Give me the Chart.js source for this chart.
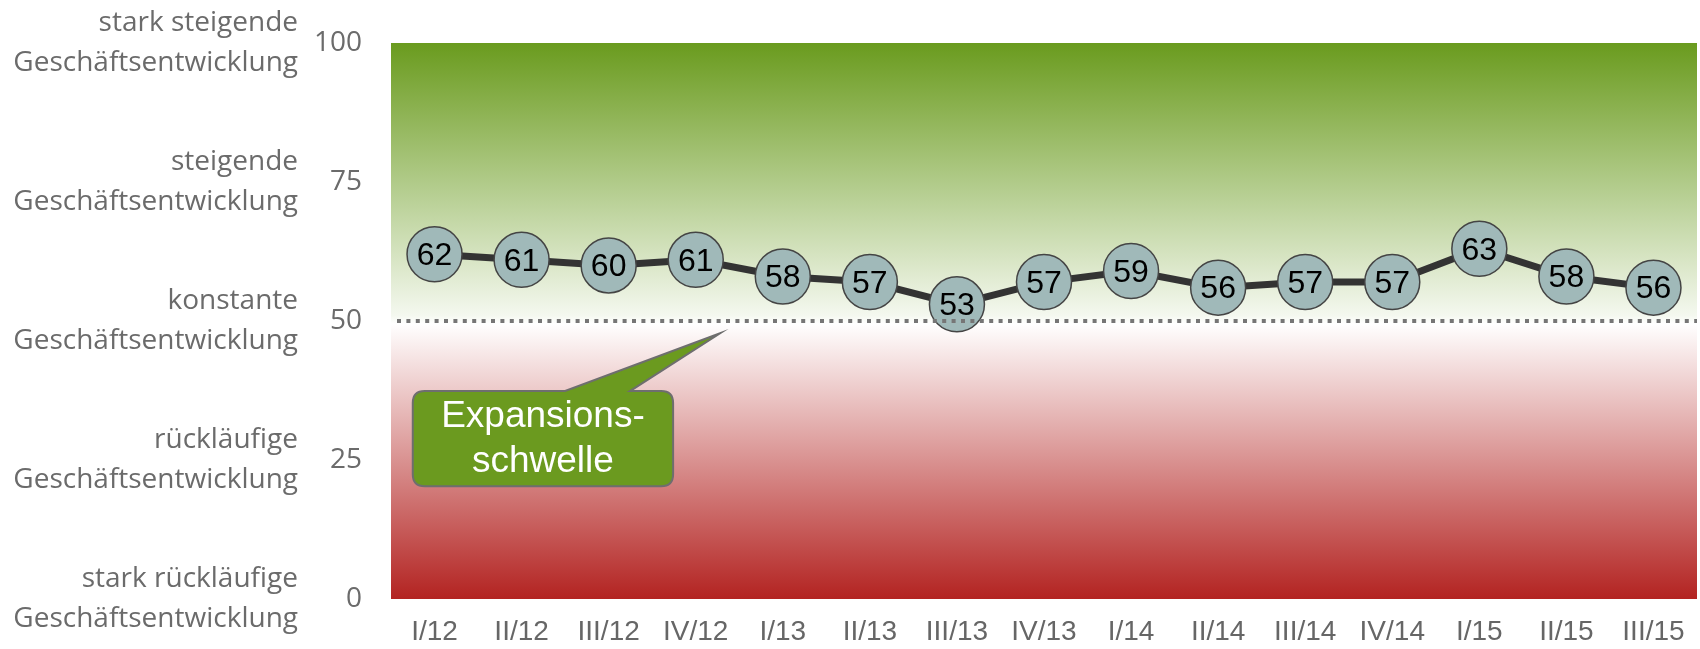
<!DOCTYPE html>
<html>
<head>
<meta charset="utf-8">
<script src="https://cdn.jsdelivr.net/npm/chart.js@4/dist/chart.umd.min.js"></script>
<style>
  html, body { margin: 0; padding: 0; background: #fff; }
  #wrap { width: 1700px; height: 649px; }
</style>
</head>
<body>
<div id="wrap"><canvas id="myChart" width="1700" height="649"></canvas></div>
<script>
const quarters = ['I/12', 'II/12', 'III/12', 'IV/12', 'I/13', 'II/13', 'III/13', 'IV/13',
                  'I/14', 'II/14', 'III/14', 'IV/14', 'I/15', 'II/15', 'III/15'];
const indexValues = [62, 61, 60, 61, 58, 57, 53, 57, 59, 56, 57, 57, 63, 58, 56];
const yTicks = [0, 25, 50, 75, 100];
const yDescriptions = {
  0: ['stark rückläufige', 'Geschäftsentwicklung'],
  25: ['rückläufige', 'Geschäftsentwicklung'],
  50: ['konstante', 'Geschäftsentwicklung'],
  75: ['steigende', 'Geschäftsentwicklung'],
  100: ['stark steigende', 'Geschäftsentwicklung']
};
const threshold = 50;
const calloutLines = ['Expansions-', 'schwelle'];

// callout box in data units (x = category index, y = index value)
const callout = { x0: -0.25, x1: 2.74, y0: 37.4, y1: 20.3, baseA: 1.5, baseB: 2.245, tipX: 3.28, tipY: 47.8 };

const bgPlugin = {
  id: 'bg',
  beforeDraw(chart) {
    const { ctx, chartArea: a } = chart;
    const g = ctx.createLinearGradient(0, a.top, 0, a.bottom);
    g.addColorStop(0, '#6a9b1e');
    g.addColorStop(0.49, '#f4f8ef');
    g.addColorStop(0.505, '#ffffff');
    g.addColorStop(1, '#b32321');
    ctx.save();
    ctx.fillStyle = g;
    ctx.fillRect(a.left, a.top, a.right - a.left, a.bottom - a.top);
    ctx.restore();
  }
};

const overlayPlugin = {
  id: 'overlay',
  afterDatasetsDraw(chart) {
    const { ctx, chartArea: a } = chart;
    const xs = chart.scales.x, ys = chart.scales.y;
    // threshold line
    const ty = Math.round(ys.getPixelForValue(threshold));
    ctx.save();
    ctx.strokeStyle = '#767676';
    ctx.lineWidth = 4;
    ctx.setLineDash([4, 5.4]);
    ctx.beginPath();
    ctx.moveTo(a.left + 6, ty);
    ctx.lineTo(a.right, ty);
    ctx.stroke();
    ctx.restore();

    // value labels
    const meta = chart.getDatasetMeta(0);
    ctx.save();
    ctx.fillStyle = '#000';
    ctx.font = '32px "Liberation Sans", Arial, sans-serif';
    ctx.textAlign = 'center';
    ctx.textBaseline = 'middle';
    meta.data.forEach((p, i) => {
      ctx.fillText(String(indexValues[i]), p.x, p.y + 2);
    });
    ctx.restore();

    // callout
    const bx0 = xs.getPixelForValue(callout.x0), bx1 = xs.getPixelForValue(callout.x1);
    const by0 = ys.getPixelForValue(callout.y0), by1 = ys.getPixelForValue(callout.y1);
    const ax = xs.getPixelForValue(callout.baseA), bxx = xs.getPixelForValue(callout.baseB);
    const tx = xs.getPixelForValue(callout.tipX), tyy = ys.getPixelForValue(callout.tipY);
    const r = 12;
    ctx.save();
    ctx.beginPath();
    ctx.moveTo(bx0 + r, by0);
    ctx.lineTo(ax, by0);
    ctx.lineTo(tx, tyy);
    ctx.lineTo(bxx, by0);
    ctx.lineTo(bx1 - r, by0);
    ctx.quadraticCurveTo(bx1, by0, bx1, by0 + r);
    ctx.lineTo(bx1, by1 - r);
    ctx.quadraticCurveTo(bx1, by1, bx1 - r, by1);
    ctx.lineTo(bx0 + r, by1);
    ctx.quadraticCurveTo(bx0, by1, bx0, by1 - r);
    ctx.lineTo(bx0, by0 + r);
    ctx.quadraticCurveTo(bx0, by0, bx0 + r, by0);
    ctx.closePath();
    ctx.fillStyle = '#6b9a1f';
    ctx.fill();
    ctx.strokeStyle = '#6e6e6e';
    ctx.lineWidth = 2;
    ctx.stroke();
    ctx.fillStyle = '#fff';
    ctx.font = '37px "Liberation Sans", Arial, sans-serif';
    ctx.textAlign = 'center';
    ctx.textBaseline = 'middle';
    const cx = (bx0 + bx1) / 2, cy = (by0 + by1) / 2;
    ctx.fillText(calloutLines[0], cx, cy - 22);
    ctx.fillText(calloutLines[1], cx, cy + 23);
    ctx.restore();
  }
};

function noPad(scale) {
  scale.paddingTop = 0;
  scale.paddingBottom = 0;
  scale.paddingLeft = 0;
  scale.paddingRight = 0;
}

const ctx = document.getElementById('myChart');
const myChart = new Chart(ctx, {
  type: 'line',
  data: {
    labels: quarters,
    datasets: [{
      data: indexValues,
      borderColor: '#333333',
      borderWidth: 7,
      pointRadius: 27.5,
      pointBackgroundColor: '#a0b9b9',
      pointBorderColor: '#444444',
      pointBorderWidth: 1.5,
      tension: 0,
      clip: false
    }]
  },
  options: {
    responsive: false,
    animation: false,
    events: [],
    layout: { autoPadding: false, padding: { top: 43, right: 3, left: 0, bottom: 0 } },
    plugins: { legend: { display: false }, tooltip: { enabled: false } },
    scales: {
      x: {
        offset: true,
        afterFit(scale) { noPad(scale); scale.height = 50; },
        grid: { display: false, drawTicks: false },
        border: { display: false },
        ticks: {
          color: '#666666',
          padding: 16,
          maxRotation: 0,
          autoSkip: false,
          font: { family: '"Liberation Sans", Arial, sans-serif', size: 28 }
        }
      },
      y: {
        position: 'left',
        weight: 0,
        min: 0,
        max: 100,
        afterBuildTicks(scale) { scale.ticks = yTicks.map(v => ({ value: v })); },
        afterFit(scale) { noPad(scale); scale.width = 86; },
        grid: { display: false, drawTicks: false },
        border: { display: false },
        ticks: {
          color: '#6b6b6b',
          padding: 29,
          font: { family: '"Open Sans", sans-serif', size: 28 }
        }
      },
      yDesc: {
        position: 'left',
        weight: 1,
        min: 0,
        max: 100,
        afterBuildTicks(scale) { scale.ticks = yTicks.map(v => ({ value: v })); },
        afterFit(scale) { noPad(scale); scale.width = 305; },
        grid: { display: false, drawTicks: false },
        border: { display: false },
        ticks: {
          color: '#6b6b6b',
          padding: 7,
          callback: (v) => yDescriptions[v],
          font: { family: '"Open Sans", sans-serif', size: 28, lineHeight: 1.43 }
        }
      }
    }
  },
  plugins: [bgPlugin, overlayPlugin]
});
</script>
</body>
</html>
